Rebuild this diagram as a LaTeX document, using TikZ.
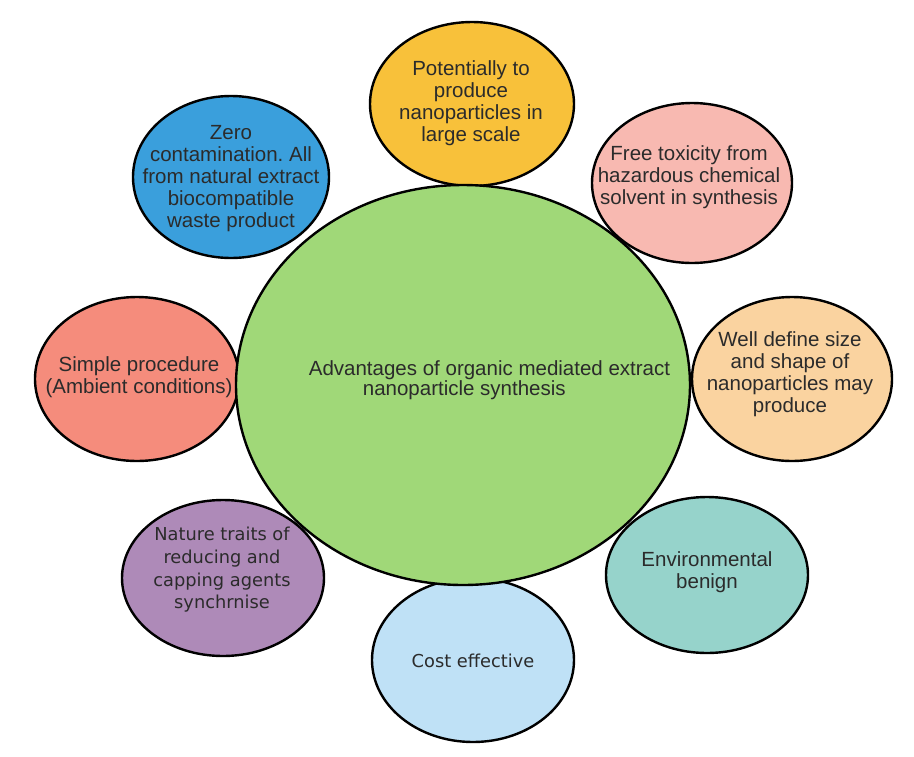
\documentclass[tikz,border=0pt]{standalone}
\usepackage{fontspec}
\setmainfont{Liberation Sans}
\newfontfamily\dvs{DejaVu Sans}
\frenchspacing
\definecolor{cYellow}{HTML}{F8C13A}
\definecolor{cBlue}{HTML}{3A9FDC}
\definecolor{cPink}{HTML}{F8B9B1}
\definecolor{cSalmon}{HTML}{F58C7C}
\definecolor{cPeach}{HTML}{FAD3A0}
\definecolor{cPurple}{HTML}{AE8AB8}
\definecolor{cTeal}{HTML}{96D3CB}
\definecolor{cLBlue}{HTML}{BFE1F6}
\definecolor{cGreen}{HTML}{A0D878}
\definecolor{cText}{HTML}{2B2B2B}
\begin{document}
\begin{tikzpicture}[x=1pt,y=-1pt,
  petal/.style={draw=black,line width=2.4pt},
  lbl/.style={text=cText,align=center,inner sep=0pt,font=\fontsize{20.5}{22}\selectfont},
  lbldv/.style={text=cText,align=center,inner sep=0pt,font=\dvs\fontsize{17.8}{22.7}\selectfont}]
\useasboundingbox[fill=white] (0,0) rectangle (914,756);
% petals
\draw[petal,fill=cYellow] (472,104) ellipse [x radius=102,y radius=82];
\draw[petal,fill=cBlue] (231,177) ellipse [x radius=98,y radius=81];
\draw[petal,fill=cPink] (692,183) ellipse [x radius=100,y radius=80];
\draw[petal,fill=cSalmon] (137,379) ellipse [x radius=102,y radius=82];
\draw[petal,fill=cPeach] (792,379) ellipse [x radius=100,y radius=82];
\draw[petal,fill=cPurple] (223,578) ellipse [x radius=101,y radius=78];
\draw[petal,fill=cTeal] (707,575) ellipse [x radius=101,y radius=78];
\draw[petal,fill=cLBlue] (473,660) ellipse [x radius=101,y radius=82];
% centre
\draw[petal,fill=cGreen] (463,385) ellipse [x radius=227,y radius=200];
% labels
\node[lbl] (center) at (489.5,381) {\begin{tabular}{@{}l@{}}Advantages of organic mediated extract\\[-2pt]\hspace*{54pt}nanoparticle synthesis\end{tabular}};
\node[lbl] (yellow) at (471,103) {Potentially to\\produce\\nanoparticles in\\large scale};
\node[lbl] (blue) at (231,179) {Zero\\contamination. All\\from natural extract\\biocompatible\\waste product};
\node[lbl] (pink) at (689,177) {Free toxicity from\\hazardous chemical\\solvent in synthesis};
\node[lbl] (salmon) at (139,377) {Simple procedure\\(Ambient conditions)};
\node[lbl] (peach) at (790,374) {Well define size\\and shape of\\nanoparticles may\\produce};
\node[lbldv] (purple) at (222,570) {Nature traits of\\reducing and\\capping agents\\synchrnise};
\node[lbl] (teal) at (707,572) {Environmental\\benign};
\node[lbldv] (lblue) at (473,661) {Cost effective};
\end{tikzpicture}
\end{document}
